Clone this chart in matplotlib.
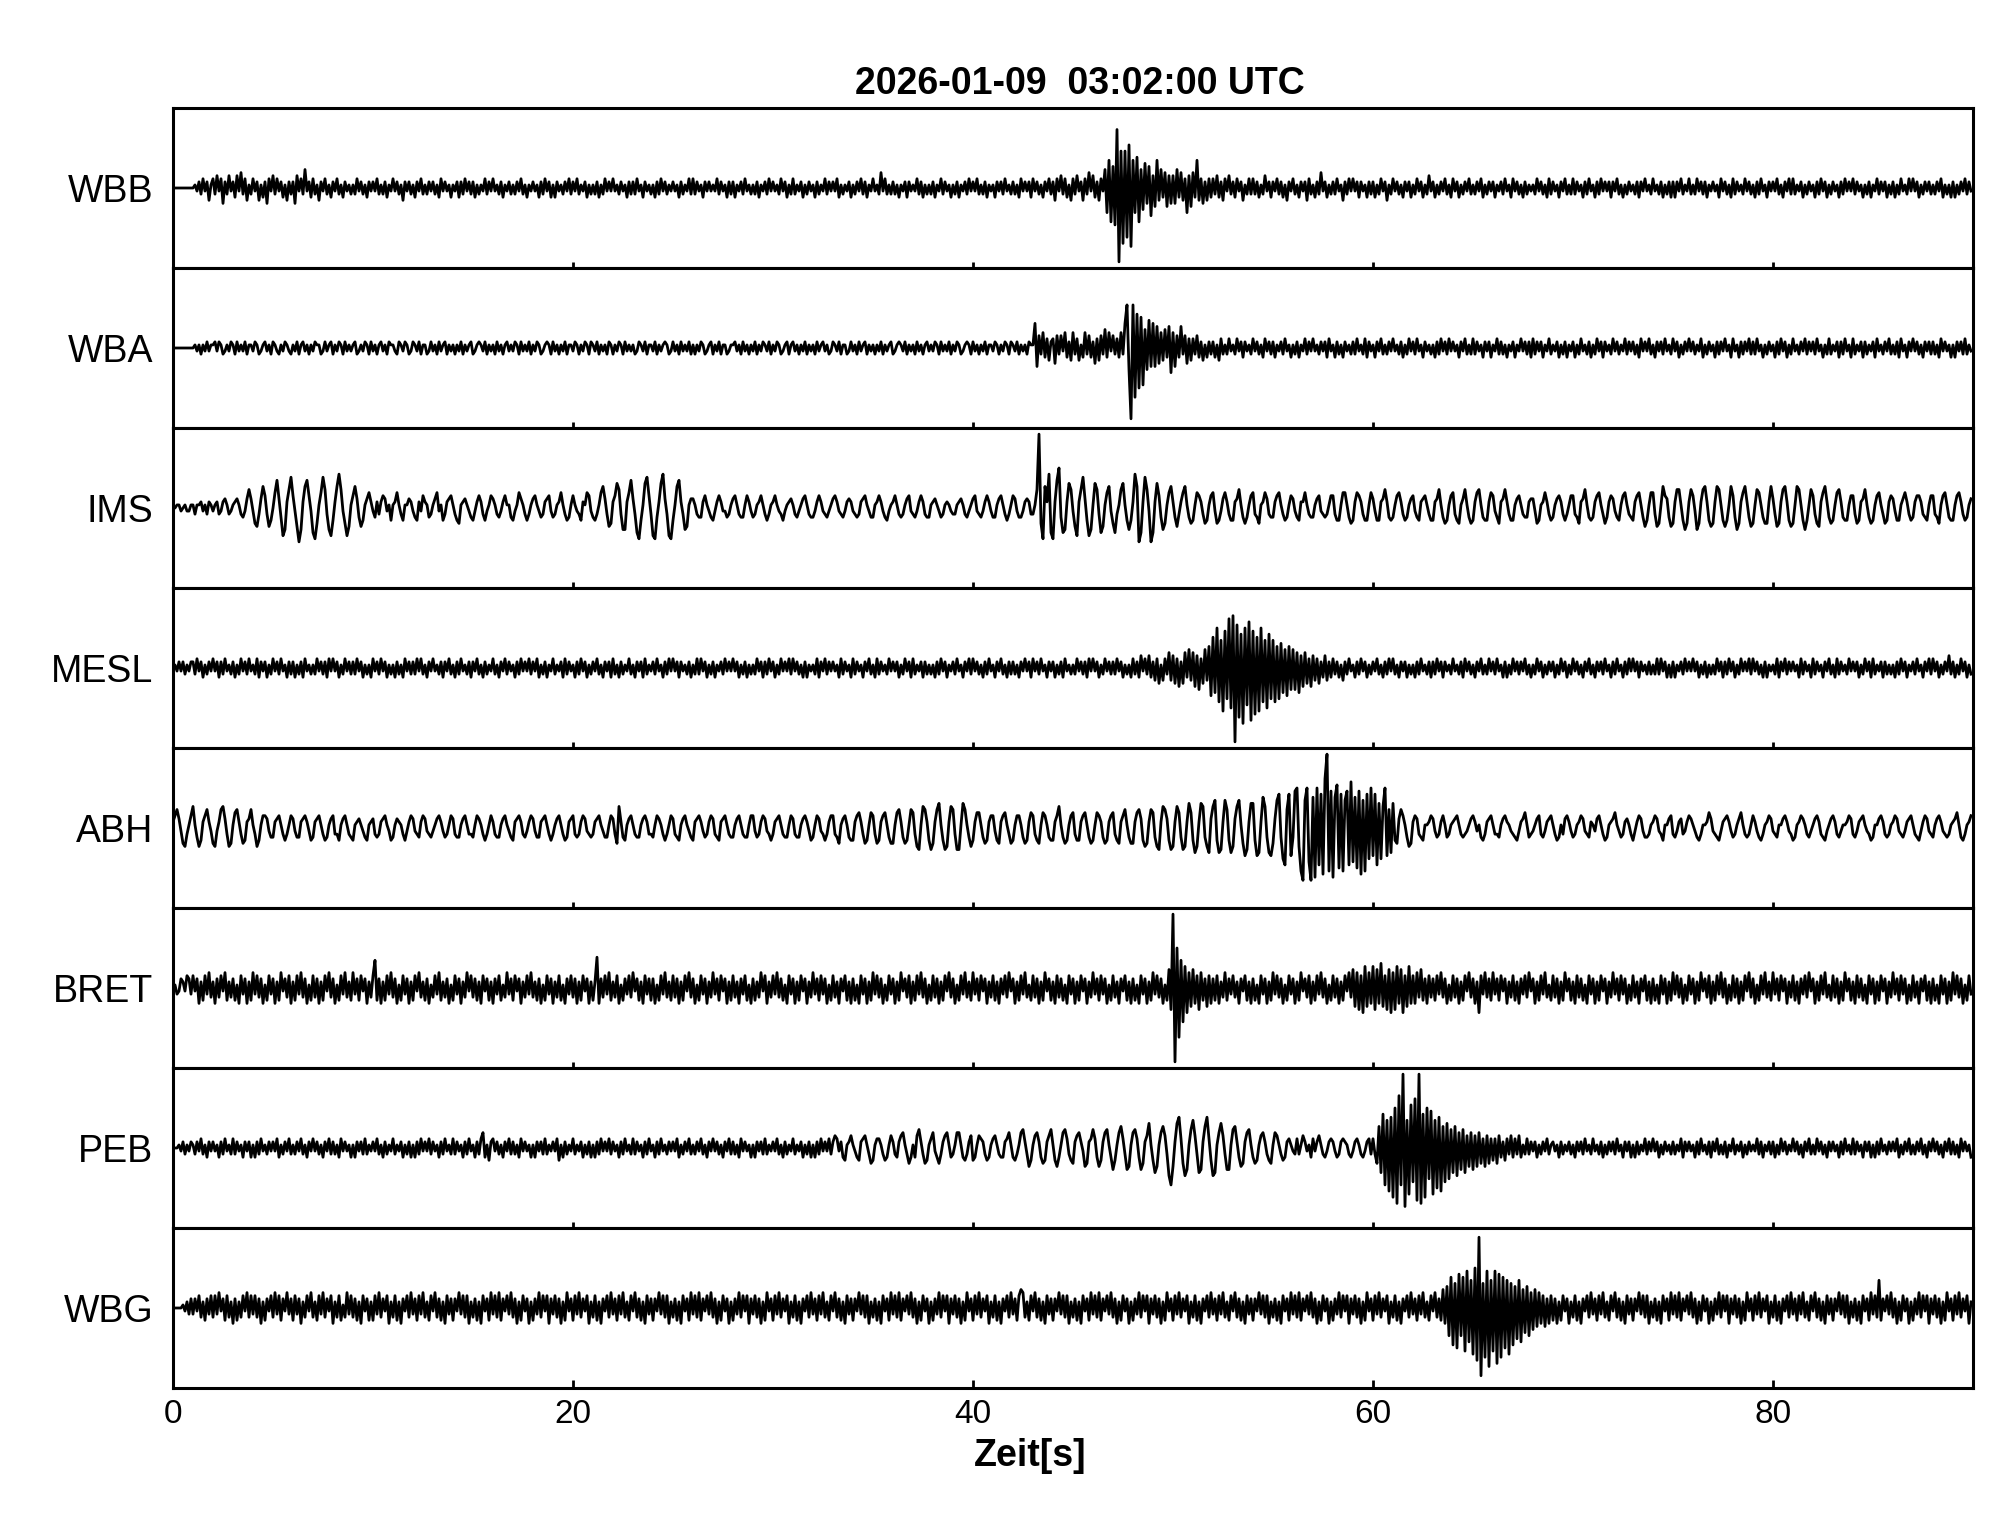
import matplotlib
matplotlib.use("Agg")
import matplotlib.pyplot as plt

plt.rcParams['font.family'] = ['Liberation Sans', 'DejaVu Sans']

# traces: one group of characters per second,
# '0' = 0, 'a'..'y' = +1..+25, 'A'..'Y' = -1..-25 (amplitude units)
wbb = """
0000000000 0aAbBcAbDa cBdAcEbBdA bCdAeBcDaB cAbDaCbEcA dBcAbCaDbB bEdAcBfAbC cBaDbAcBaC bAcBaCbAaB aBcAbBaCbA
bAcBaBbCaA cAbBaDbAbB aCbAcBaBbA bBaCcAbAaC aAbCbBcAbB bCaBaAcBbA cAaBbCaAbB aBbAcBaCaA bAaCbBcAbC aCbAaBbAcB
bAcBaAbCaB aBbCaBcAbA cAaBbAaCbB bBcAaCbAaB aCbBcAbBaA bAaCbBaAcB cBbAaCbAbA aAcBbAaCbB bCaAbBcAaB aBbCaAbBcA
bAaBcAbCaB cBaAbCaBbA aCbBaAcBbA bAcCaBaAbC aBbAcBbCaA cAaBeAcBaB bBaCaAbCbA aAcBbCaBaB bCaAcBbAaC aBbCaAbBcA
bAcBaBbCaA aCbAbBcAaB bBaCcAbAbC cAbBaCbAcB bDcAdBcCaD cBdAbDcBeA dCbDcAfHiK gLsXlRlPnS iHjKfGhEgI dFiDfCeFdE
dEfCeDcHdF eCiDcEbDcC cBdCbDcAdB bCcAbDaBcB cBbCaBdAbC bAcBbCaDbA cBaCbAbDcB aCbBeAbCaB bBcAaDbBcA cAbCbAaCbB
bCaBcAbDaB cAbBaCbAbC aBcAbCaBdA bCaBbAcBaC cAbCaBbAcB aBbAcCaBbA bCaAbBcAaC cAbBaCbBaA aBcAbBaCcB bAaCbAcBaB
cBbAaCbBcA aCbBcAbAbC bAcBaCaBbA aBbCbAcAaB cAaBbCaBbC bCbAcBaAcB aBcAbBbCaA bAaCcAbBaC cBbAaBcAbB aCbBcAaCbA
bAcBaCbAcB cBaAbCaBbA aCbBcAbCaB bAaCbBcAbA cBbAaCaBbC aAcBbAbCaB bCaBcAaBcA cAbCaBbAbB aBbAcCaBaC bCaBbAcBbA
"""

wba = """
0000000000 0aAaBaAbAa abAbaBAaAb aBbAaAbBaa AbaBAabAaB baABaAbaAB aAbBabAaBa AbaaBAbAab BaAbaBbAaA abBAaAbaBb
AaBabAaBba aABbaAbaBA baAbBaaBAb AaBbAabBaA aBaAbBaAab BAabaAbBaA aBbAaBabAa AbaBbAaAbB aAbaBAabaB bAaBaAbBaa
AbaBaAbaBb aAbBaAaBba BaAbaBbAaA aBAbaAbBaa AbBaAabaBA bAaBbAaAbB aBaAbaBAab BaAbBaaBAa abAaBbAaBa AbBaAbaAbB
aAbaBAabBa bAaBaAbBaA aBbAabAaBA baAbBaaBAb AaBbAabBaA aBaAbBaAab BAabaAbBaA aBbAaBabAa AbaBbAaAbB aAbaBAabaB
bAaBaAbBaa AbaBaAbaBb aAbBaAaBba ahFdBeCcDb cEdBdAeCbD eBcDaCeBdC bEcDdBfCeA dBcCeBhnGW nPkMjLfGiF hFgEeDfCgH
eFdCgBdEcD cBdCbDaCbB bCaDcBaBcA aBcAbCbAaB cAbBaCcAbB bCaAbBcAaC aBbCaAcBbA cAaBbAbCcA aCbBaCbAaB bBcAaBcCbA
aCbAcBaBbA cAaBbCaBcA bBcAaCbAaB aCbBcAbBcA bAaCbAcBaB cBbAaCbAbC aAcBbBaCaA bCaAcAbBbC cBbAbCaAcB aAbCaBbCaA
bCaBcAaBbC aBcAbCbAaB cAbBaAcBbA bBaCcAbAcB aCbAbBcAaB cAbCaBbAcA bBaAcCaBbA aCbBbAcAaC cAaCbBbAcB bBcAaCaBbA
aCbBcAbCaB cAaBbAcBbA bBcAaCaBcB aAbCbBcAaC cBaAbCbBaA bCcAaBbAcB aBbCcAaCbA cAbBaCbAbB bBaCcAbAaC aCbAbBcBaA
"""

ims = """
00aaA0aAAa aBaabAaBba AabBAbcaBA abcaBCAcfc AEFBcgdBFD 0eicCIGbfj dAFKGbgidA HJEaejfBGI DbgkfAEIFa dgcCFDaceb
ACbBbdcAaD abeaBDaacb ACDbAdbaCB aceAaDBbcd aBDEabcaAC DAbdbBDAad caBCAbdaaC DAaecaBDBa cdaACBbcdA CBabeaBDCa
daABDbaedA CDBaegcBFE bdhfBGGbei cBHJDahjdB IJCbhkcBIJ DagibBGFac caBCCbdaAC DAbdbAACBa cdaBCCadbA CBabdaBDBa
bdaABDAabc aBCAacdaBC CAbdbABCAa cdbABCAbcb ABCBbcdaAC CabdbACDAa bdaBCBacdA BCAbdbBCCa bcaACBabaA BBabcaBCAa
cdABCAbdbA CCacdaBDBa dcACCAbcbB BafxEJgbkH JbimCHGbhf AFIbfjcDIG ahfBHFaegA EHBafhaDGD bkgKHbjfAK HbhdCGEaeg
bCFBbegaCE DaedbBEDad eAEDAcebBD DbcfaCECad eBCEabecBC CbdeaBDCad cACDbbeaBC CacdABCBad dBDDaeeaCE DbedbBDDae
cADDbcfbCD CadebBDCac dACDbcdaBD DbcfaCEDad eBDEacfaCE DbefaCDDbe dACEbcfbBD DacdaBCCbc cAEDabebBD CacdbBDBad
dBCEbcfaCD CbdeaBECbd cACDadeaBC DbdeaCFDae eBFEagdcCF EbffaDGEbf dAGEbfgbDF EbgfaDFDag dCGEbegbCF EafeaCEEbg
cBFEbfgbDF EagfaDGDaf dBEFbegbCE DaefbCDDad dBEDbcfaCE DadeaBEDbd cADDacebBD CbddbBCDad dBCEadeaCD DadebBDCac
"""

mesl = """
0aAbAbBaAb bBcAbCaBbA cAbCbBcAaB bCaBcAbBcA aBcCbAbCaB cAbBcAaCbB bCaBbCcAaB aBcAbBbCcA cAbCaBcAbB bBcAbCaBaC
cAbBcAbCaB aCbBaCcAbB bBcAcBaCbA cAaBbCbAcB aCbBcAaBbC bAcBaCbBaA cBaCbAcBbA aCbBcAbAcB bAcCaBbCaA cBaAbCcBbA
aCbBcAbCaB bAcBaCbAbC cBaCbBaAcB aCbAbCcBaA bBcAaCbBcA cAbCbAaBbC aBcBcAbCaB bCaAbBcAbA cAbCaBbCaB aBcAbCbBcA
bCaBcAbAcB cAbBaCbCaA aBcCbAcBbA bAaCcBbAaC cBbAaCbAcB aCcBbAaBcA bAbCaBcAbC cBaAbCbBaB aCbBcAbCaA bBcAaCbAcB
cAbBaCbBcA aCbAcBaCbB bBaCbAcAbC cAbBcAaCbA bCaBbCcAaB aBcAbBbCcA cAbCaBcAbB bBcAbCaBaC cBbCdAcBdC bDcEaDcBeD
dEcFbEeCfD eFdGcEfDgI jHmKiNlJpM qXnPkRmLoQ lOjNmKiMkJ iKgJhHfIgG fGeHdFeEcF dDcEbCdDbC cBbCaDbBcA aCbBcAbCaB
bAcBaCbBcA cBaCbAbCaB aCbBcAaBbC bBcAbCbAaB cAaBbCcAbB aCbAcBaBcA bBcAaCbCaB cAbBbAcBaC aBcAbCaBbA bCaBcAbCaB
cAbBaCbAcB aCbAbBcAaC bBcAaCbBcA cAbCbAaBbB aBcBcAbCaC bCaAbBcAbA cAbCaBbCaB aBcAbCbBcA bCaBcAbAcB cAbBaCbCaA
aBcCbAcBbA bAaCcBbAaC cBbAaCbAcB aCcBbAaBcA bAbCaBcAbC cBaAbCbBaB aCbBcAbCaA bBcAaCbAcB cAbCaBbAdB bCaBcAbCaB
"""

abh = """
bdfcAEFBad gaCFDbdfbA EFAbfgcBFE aefbBEDbcf aBFDaddcAC CbcdaBDBad cACCbcdbAD CbcdaBDCac dBBDacdaBC DabcaACDab
cBCBbcdaAD CacbaBDAbd cABCbdcABC AacdbACBad cBCCacdaBB CadcaBDBad bBCCacdaAC DbcdbBCAbd cACCbcdaBD BacdaBDCbc
dBCBbdcABC BbcdaACCad cBEgbCDacd aBCCacdbBB CadcaBDBad cBCDacdaAC DbcdbACBbd cBCDbcdaBC CacdaBCCad dACBbdcABD
BbcdaBCCad cBCCacdbAD CadcABDBbd dBCEacdaCD DbdebBEDae dBEDbdeaCE EaefbCEDaf eBFGagfbDG EbfhaDGFbg fBGGahfaCF
DbeeaCEDbd dADEbdeaBE DaddaCEDbe dBDEaedaCD DbdgaCEDad eBDDbdeaCE DaedbCEDbd eBDEbdfaCE EbefcDFEbf eCFGbgfcDG
FbgeCGFbhe DHFbhgCFHc giDHGbifDH FcgiaEIGbh hDIHbjgCHI EcikCJLfkI ClmFNQimKQ jPmLkOpxNl PjnMkNilLo KjMlOiNkJm
IkLhJgmIfH hDEcfdaCFE bdcBCDaabd cACBbdaCBa bcdaBCBAac dbAaCDBbcd aBBCacdbaA BCDAbceaCB AacdBCAbcd aBDCaBcdbA
CBabdcABCb aAcdaBDCab ceaACBbcaB DAbdcACCBa bdcABDaacd BCAbcBAbdc aACDBaabec ABCDAbcdbA CBaceaBCBa dbACDBabdc
ABCaacdbAB DCabdcaBCA acdbBCDAac dbBCAaabdc BCAbcdaABD CaacdbBCBa bdcABCAbcd aBCDAbdcAB CacdbABCBa bceaCDBabd
"""

bret = """
0aBAcbAdcB dAcEbDdBeC bEcCdAeDbC cDaEdBcEbD eBdCcEaDdB cEbDeAcCdE bDdBeCcEaD dCcEbDdAeC cEaDdBeCbD eBcDdAcEbC
diDcEbDdBe CcEaDdBcEb DdAeCbDcEa CdBeDbCcEa DdBcEbCeAd CcDbEdAcDb EcBdDaCeBc DdAcEbCdBe CbDcEaDdBc EbCdDaEcBd
CcEbDdAcEb DbjEcCdBeD bCdEaDcBdC eAcDbEdBcD cEaDdBeCbD dCcEbDdAeC cEaDdBcEbC eBcDdAcEbD dCbEcBdDaE cDbCeAdEbC
dBeCcDaEdB cEbDdAcEbC eBcDdBcEaD dCbEcAdDbE cDaEdBcEbD eBdCcEaDdB cEbDeAcCdE bDdBeCcEaD dCcEbDdAeC cEaDdBeCbD
eBcDdAcEbC dDbEcBdCeA cEbDdBeCaD dCcEbDeAcD bEdCcDaEdB cEbDdAcEbC eBcDdBcEaD dCbEcAdDbE cDaEdBcEbD eBdCcEaDfG
xXmPiKgHeF fEdGeDcFdE cDdEbCeDcB dCbEcAdDbE cDaEdBcEbD eBdCcEaDdB cEbDeAcCdE bDdBeCcEaD dCcEbDdAeC fFeGdHgFeE
gGfEhFdGfH eGgEfHdFgE dEeCfDcEdC cDdBeCcEaD dCcEbDdAeC cEbHdBeCcD eBcDdAcEbC dDbEcBdCeA cEbDdBeCaD dCcEbDeAcD
bEdCcDaEdB cEbDdAcEbC eBcDdBcEaD dCbEcAdDbE cDaEdBcEbD eBdCcEaDdB cEbDeAcCdE bDdBeCcEaD dCcEbDdAeC cEaDdBeCbD
eBcDdAcEbC dDbEcBdCeA cEbDdBeCaD dCcEbDeAcD bEdCcDaEdB cEbDdAcEbC eBcDdBcEaD dCbEcAdDbE cDaEdBcEbD eBdCcEaDdB
"""

peb = """
000aAbBaAb aBbAcBaCbA bAaCbBcAaB cBbAaCbAbC aCbBcAaBbA bAcCaBbAcB aBbAcBaCbA cAbBaCbAcB bBaCcAbAaC aCbAbBcBaA
bAcBaCbBaA cBaAbCaBbC aCbBcAbAcB bAaCbBcAaB cBbAaCbBcA aCbBceCaDb cAbBaCbAcB bBaCcAbAaC aCbAbBcBaA bAcDaCbBaA
cBaAbCaBbC aCbBcAbAcB bAaCbBcAaB cBbAaCbBcA aCbBcAaBbA bAcCaBbAcB aBbAcBaCbA cAbBaCbAcB bBaCcAbAaC aCbAbBcBaA
bAcBaCbBaA cBaAbCaBbC aCbBcAbAcB bdcAbCDabd aACDbcdaBE DaccaBDCad bBCbdeaBEC aCdfbBEDac eACEBbdeaC BaeeaCDBbd
DCadcbBDCa cdaBCCbcea CDBaefbBFD adebCEDbdf aDFCaefcBD EbdebAFEbc fcCFDbefaC GDaegcBGFa efcCGEbdha DHFaegdBIL
FbhjcEIGaf idBHGbgjcD IHaehdBGGa fgbCFEbefa CEDadebBDE aedaBDCbca ABcBadbAaC cAbdaBCAbc bACBbcbaBC AbcaBCAbcB
cBEgHkLiNj PmRqLxSiOn KpQxRkPmJl OiMjNgKhJf HgIeGfHdFe GdFeEcFdEc DcEdCbDcBd CcBdCaBcBb AbCaBbAcBa bAaCbBaAbB
aCbAbBcAaB cAaBbCaBbA bBcAaCbAbC aCbBaAcBbA cAbCaBbAaB bBaAcCbAbA aCbBcAaBbC bAcBaBbCaA cBaAbCaBbA aAcBbCaAbB
bCaBcAbBaA cAbBaCbAcB aBcAbBaCbA bAaCbBcAaB cBbAaCbAbC aCbBcAaBbA bAcCaBbAcB aBbAcBaCbA cAbBaCbAcB bBaCcAbAaC
"""

wbg = """
00000aAbBc BcAdCbDcBd CdBeAcDdCb EcDbCdAeCd BdCcEbDcAd CeBdDcAeBc DdBcEbCdAe CbDdBeCcAd EbCdDaCeBd CcDbEdAcDb
DdBeCcAdEb CdDbEcAdCe BcDdBeCbDd AeCcDbEdBc DcAeBdCdEb CcDbEdAcDe BdCeDcAdBe CcEbDdAcEb DcBeCdAdEc BdCcEbDeAc
DdBeCcAdEb CdDbEcAdCe BcDdBeCbDd AeCcDbEdBc DcAeBdCdEb CcDbEdAcDe BdCeDcAdBe CcEbDdAcEb DcBeCdAdEc BdCcEbDeAc
DdBeCcAdEb CdDbEcAdCe BcDdBeCbDd AeCcDbEdBc DcAeBdCdEb CcDbEdAcDe BdCeDcAdBe CcEbDdAcEb DcBeCdAdEc BdCcEbDeAc
DdBeCcAdEb CdDbEcAdCe BcDdfeCbDd AeCcDbEdBc DcAeBdCdEb CcDbEdAcDe BdCeDcAdBe CcEbDdAcEb DcBeCdAdEc BdCcEbDeAc
DdBeCcAdEb CdDbEcAdCe BcDdBeCbDd AeCcDbEdBc DcAeBdCdEb CcDbEdAcDe BdCeDcAdBe CcEbDdAcEb DcBeCdAdEc BdCcEbDeAc
DdBeCcAdEb CdDbEcAdCe BcDdBeCbDd AeCcDfEgIj LhMkIjNlKi OmQwVhPlSi NlRkPjMiOh LgJiKfHgIe GfFeEdFcEd DcEbDdAcEb
CdDbEcAdCe BcDdBeCbDd AeCcDbEdBc DcAeBdCdEb CcDbEdAcDe BdCeDcAdBe CcEbDdAcEb DcBeCdAdEc BdCcEbDeAc DdBeCcAdEb
CdDbEcAdCe BcDdBeCbDd AeCcDbEdBc DcAeBdCdEb CcDbEdAcDe BdCiDcAdBe CcEbDdAcEb DcBeCdAdEc BdCcEbDeAc DdBeCcAdEb
"""

stations = ['WBB', 'WBA', 'IMS', 'MESL', 'ABH', 'BRET', 'PEB', 'WBG']
traces = [wbb, wba, ims, mesl, abh, bret, peb, wbg]
xticks = [0, 20, 40, 60, 80]
title = '2026-01-09  03:02:00 UTC'


def decode(s):
    t, y = [], []
    for k, grp in enumerate(s.split()):
        n = len(grp)
        for j, ch in enumerate(grp):
            if ch == '0':
                v = 0
            elif ch.islower():
                v = ord(ch) - 96
            else:
                v = -(ord(ch) - 64)
            t.append(k + j / n)
            y.append(v)
    return t, y


fig, axes = plt.subplots(8, 1, sharex=True, figsize=(20.05, 15.22), dpi=100)
fig.subplots_adjust(left=173/2005, right=1973/2005, top=1-108/1522,
                    bottom=1-1388/1522, hspace=0)

for ax, name, tr in zip(axes, stations, traces):
    t, y = decode(tr)
    ax.plot(t, y, color='black', lw=2.0)
    ax.set_xlim(0, 90)
    ax.set_ylim(-26, 26)
    ax.set_yticks([0])
    ax.set_yticklabels([name])
    ax.tick_params(axis='y', length=0, pad=14, labelsize=27)
    ax.tick_params(axis='x', direction='in', length=4, width=2, labelsize=24, pad=8)
    for sp in ax.spines.values():
        sp.set_linewidth(2.2)

axes[-1].set_xticks(xticks)
axes[-1].tick_params(axis='x', length=6)
axes[-1].set_xlabel('Zeit[s]', fontsize=27, fontweight='bold', labelpad=6, x=0.476)
axes[0].set_title(title, fontsize=27, fontweight='bold', pad=10, x=0.504)

plt.savefig('out.png', dpi=100)
